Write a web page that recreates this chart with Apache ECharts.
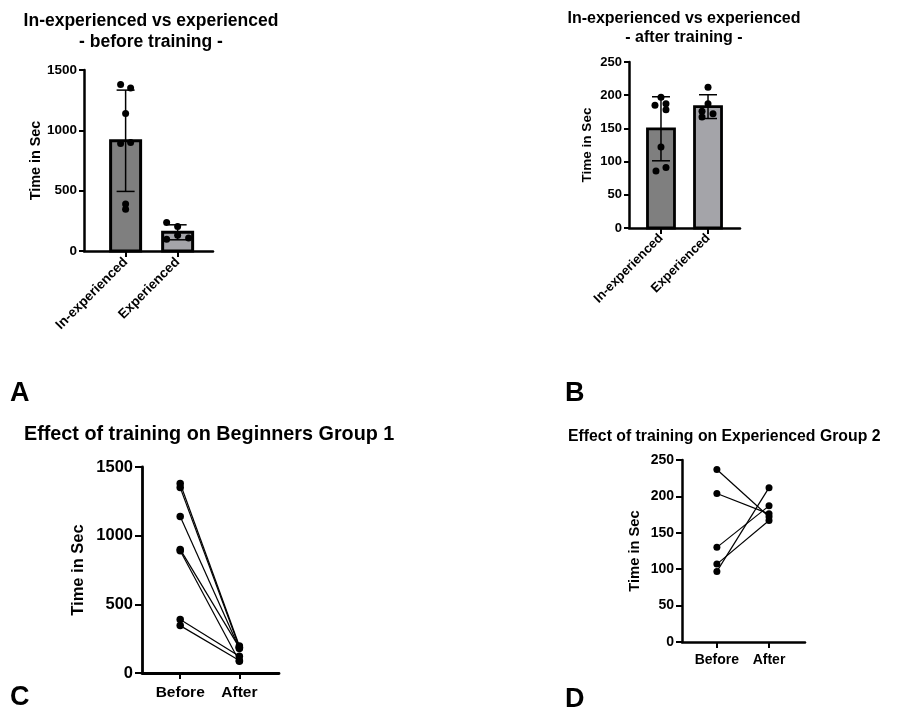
<!DOCTYPE html>
<html>
<head>
<meta charset="utf-8">
<script src="https://cdn.jsdelivr.net/npm/echarts@6/dist/echarts.min.js"></script>
<style>
  html, body { margin: 0; padding: 0; background: #fff; }
  #chart { width: 919px; height: 712px; }
</style>
</head>
<body>
<div id="chart"></div>
<script>
// categories
const groupCats = ['In-experienced', 'Experienced'];
const pairCats = ['Before', 'After'];
// time in sec per subject (paired, same order before / after)
const beginnersBefore = [1380, 1350, 1140, 900, 890, 390, 345];
const beginnersAfter = [197, 187, 178, 185, 86, 122, 91];
const experiencedBefore = [237, 204, 130, 107, 97];
const experiencedAfter = [172, 176, 187, 167, 212];
// y ticks
const ticksLong = [0, 500, 1000, 1500];
const ticksShort = [0, 50, 100, 150, 200, 250];

// horizontal jitter of dots (px), same order as data
const jitBegBefore = [-5, 5, 0, 5, -5, 0, 0];
const jitExpBefore = [-11, 0, 0, 11, -11];
const jitBegAfter = [0, 5, 5, -6, -5, 0, 5];
const jitExpAfter = [5, -6, 0, -6, 0];

const FONT = "'Liberation Sans', Arial, sans-serif";
const fills = ['#7f7f7f', '#a4a4a9'];

function mean(a) { return a.reduce((s, v) => s + v, 0) / a.length; }
function sd(a) {
  const m = mean(a);
  return Math.sqrt(a.reduce((s, v) => s + (v - m) * (v - m), 0) / (a.length - 1));
}

let myChart = echarts.init(document.getElementById('chart'));

function yAxis(idx, ticks, fs, nameFs, nameGap, tickLen, lw) {
  return {
    gridIndex: idx, type: 'value',
    min: ticks[0], max: ticks[ticks.length - 1], interval: ticks[1] - ticks[0],
    name: 'Time in Sec', nameLocation: 'middle', nameGap: nameGap,
    nameTextStyle: { fontFamily: FONT, fontWeight: 'bold', fontSize: nameFs, color: '#000' },
    axisLine: { show: true, onZero: false, lineStyle: { color: '#000', width: lw } },
    axisTick: { show: true, length: tickLen, lineStyle: { color: '#000', width: 2 } },
    axisLabel: {
      fontFamily: FONT, fontWeight: 'bold', fontSize: fs, color: '#000', margin: tickLen + 2,
      formatter: function (v) { return String(v); }
    },
    splitLine: { show: false }
  };
}

function xAxis(idx, cats, min, max, fs, rotate, margin, lw) {
  return {
    gridIndex: idx, type: 'value', min: min, max: max,
    axisLine: { show: true, onZero: false, lineStyle: { color: '#000', width: lw } },
    axisTick: { show: true, customValues: [0, 1], length: 6, lineStyle: { color: '#000', width: 2 } },
    axisLabel: {
      customValues: [0, 1], rotate: rotate, margin: margin,
      fontFamily: FONT, fontWeight: 'bold', fontSize: fs, color: '#000',
      formatter: function (v) { return cats[Math.round(v)]; }
    },
    splitLine: { show: false }
  };
}

function barSeries(idx, groups, barW, bw) {
  return {
    type: 'custom', xAxisIndex: idx, yAxisIndex: idx, z: 1,
    data: groups.map((g, i) => [i, mean(g)]),
    renderItem: function (params, api) {
      const top = api.coord([api.value(0), api.value(1)]);
      const base = api.coord([api.value(0), 0]);
      return {
        type: 'rect',
        shape: { x: top[0] - barW / 2, y: top[1], width: barW, height: base[1] - top[1] },
        style: { fill: fills[api.value(0)], stroke: '#000', lineWidth: bw }
      };
    }
  };
}

function errSeries(idx, groups, cap) {
  return {
    type: 'custom', xAxisIndex: idx, yAxisIndex: idx, z: 2,
    data: groups.map((g, i) => [i, mean(g) - sd(g), mean(g) + sd(g)]),
    renderItem: function (params, api) {
      const lo = api.coord([api.value(0), api.value(1)]);
      const hi = api.coord([api.value(0), api.value(2)]);
      const st = { stroke: '#000', lineWidth: 1.5 };
      return {
        type: 'group',
        children: [
          { type: 'line', shape: { x1: lo[0], y1: lo[1], x2: hi[0], y2: hi[1] }, style: st },
          { type: 'line', shape: { x1: hi[0] - cap / 2, y1: hi[1], x2: hi[0] + cap / 2, y2: hi[1] }, style: st },
          { type: 'line', shape: { x1: lo[0] - cap / 2, y1: lo[1], x2: lo[0] + cap / 2, y2: lo[1] }, style: st }
        ]
      };
    }
  };
}

function dotSeries(idx, x, vals, jit, size) {
  return {
    type: 'scatter', xAxisIndex: idx, yAxisIndex: idx, z: 3,
    symbol: 'circle', symbolSize: size,
    itemStyle: { color: '#000', opacity: 1 },
    data: vals.map((v, i) => ({ value: [x, v], symbolOffset: [jit[i], 0] }))
  };
}

function pairSeries(idx, before, after, size) {
  return before.map((b, i) => ({
    type: 'line', xAxisIndex: idx, yAxisIndex: idx,
    symbol: 'circle', symbolSize: size, showSymbol: true,
    itemStyle: { color: '#000', opacity: 1 },
    lineStyle: { color: '#000', width: 1.2 },
    data: [[0, b], [1, after[i]]]
  }));
}

function txt(text, x, y, fs, align, lh) {
  return {
    type: 'text', x: x, y: y,
    style: {
      text: text, fontFamily: FONT, fontWeight: 'bold', fontSize: fs, fill: '#000',
      textAlign: align, textVerticalAlign: 'middle', lineHeight: lh || fs
    }
  };
}

let option = {
  animation: false,
  backgroundColor: '#fff',
  grid: [
    { left: 84, top: 70, width: 129, height: 181, containLabel: false, outerBoundsMode: 'none' },
    { left: 629, top: 62, width: 111, height: 166, containLabel: false, outerBoundsMode: 'none' },
    { left: 142, top: 467, width: 137, height: 206, containLabel: false, outerBoundsMode: 'none' },
    { left: 682, top: 460, width: 123, height: 182, containLabel: false, outerBoundsMode: 'none' }
  ],
  xAxis: [
    xAxis(0, groupCats, -0.8, 1.68, 13.5, 45, 9, 2.5),
    xAxis(1, groupCats, -0.68, 1.68, 13, 45, 8, 2.5),
    xAxis(2, pairCats, -0.646, 1.67, 15.5, 0, 12, 2.8),
    xAxis(3, pairCats, -0.669, 1.69, 14, 0, 11, 2.5)
  ],
  yAxis: [
    yAxis(0, ticksLong, 13.5, 14.4, 38, 5, 2.5),
    yAxis(1, ticksShort, 13, 13.5, 35, 5, 2.5),
    yAxis(2, ticksLong, 16.5, 16.5, 55, 7, 2.8),
    yAxis(3, ticksShort, 14, 14.7, 40, 6, 2.5)
  ],
  series: [
    barSeries(0, [beginnersBefore, experiencedBefore], 30, 3),
    errSeries(0, [beginnersBefore, experiencedBefore], 18),
    dotSeries(0, 0, beginnersBefore, jitBegBefore, 7),
    dotSeries(0, 1, experiencedBefore, jitExpBefore, 7),
    barSeries(1, [beginnersAfter, experiencedAfter], 27, 2.8),
    errSeries(1, [beginnersAfter, experiencedAfter], 18),
    dotSeries(1, 0, beginnersAfter, jitBegAfter, 7),
    dotSeries(1, 1, experiencedAfter, jitExpAfter, 7)
  ]
    .concat(pairSeries(2, beginnersBefore, beginnersAfter, 7.5))
    .concat(pairSeries(3, experiencedBefore, experiencedAfter, 7)),
  graphic: [
    txt('In-experienced vs experienced\n- before training -', 151, 32, 17.5, 'center', 21),
    txt('In-experienced vs experienced\n- after training -', 684, 28.5, 16, 'center', 19),
    txt('Effect of training on Beginners Group 1', 24, 435, 19.8, 'left'),
    txt('Effect of training on Experienced Group 2', 568, 437, 15.8, 'left'),
    txt('A', 10, 394, 27, 'left'),
    txt('B', 565, 394, 27, 'left'),
    txt('C', 10, 698, 27, 'left'),
    txt('D', 565, 700, 27, 'left')
  ]
};
myChart.setOption(option);
</script>
</body>
</html>
